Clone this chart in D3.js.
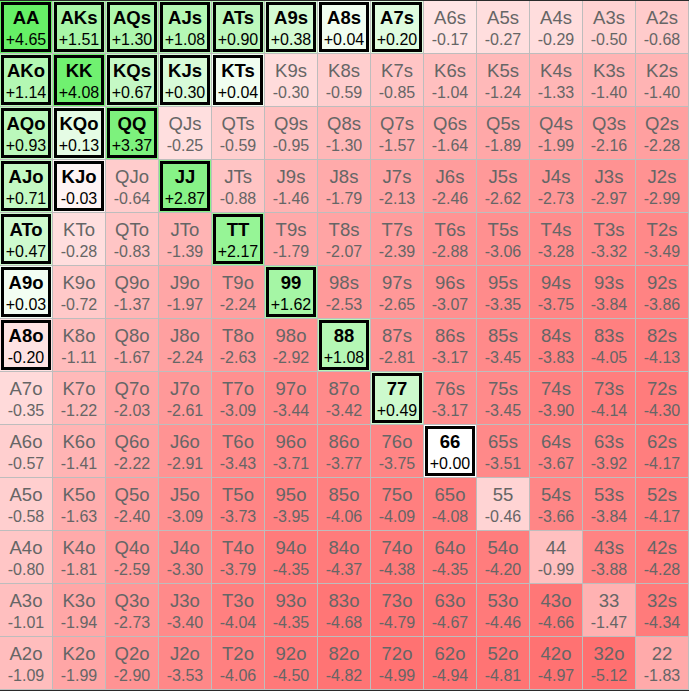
<!DOCTYPE html>
<html>
<head>
<meta charset="utf-8">
<script src="https://cdn.jsdelivr.net/npm/d3@7"></script>
<style>
  html, body { margin: 0; padding: 0; background: #2a2a2a; }
  svg { display: block; }
</style>
</head>
<body>
<script>
const ranks = ["A","K","Q","J","T","9","8","7","6","5","4","3","2"];

// EV per cell, row = first rank index, col = second rank index
const rowA = [4.65, 1.51, 1.30, 1.08, 0.90, 0.38, 0.04, 0.20, -0.17, -0.27, -0.29, -0.50, -0.68];
const rowK = [1.14, 4.08, 0.67, 0.30, 0.04, -0.30, -0.59, -0.85, -1.04, -1.24, -1.33, -1.40, -1.40];
const rowQ = [0.93, 0.13, 3.37, -0.25, -0.59, -0.95, -1.30, -1.57, -1.64, -1.89, -1.99, -2.16, -2.28];
const rowJ = [0.71, -0.03, -0.64, 2.87, -0.88, -1.46, -1.79, -2.13, -2.46, -2.62, -2.73, -2.97, -2.99];
const rowT = [0.47, -0.28, -0.83, -1.39, 2.17, -1.79, -2.07, -2.39, -2.88, -3.06, -3.28, -3.32, -3.49];
const row9 = [0.03, -0.72, -1.37, -1.97, -2.24, 1.62, -2.53, -2.65, -3.07, -3.35, -3.75, -3.84, -3.86];
const row8 = [-0.20, -1.11, -1.67, -2.24, -2.63, -2.92, 1.08, -2.81, -3.17, -3.45, -3.83, -4.05, -4.13];
const row7 = [-0.35, -1.22, -2.03, -2.61, -3.09, -3.44, -3.42, 0.49, -3.17, -3.45, -3.90, -4.14, -4.30];
const row6 = [-0.57, -1.41, -2.22, -2.91, -3.43, -3.71, -3.77, -3.75, 0.00, -3.51, -3.67, -3.92, -4.17];
const row5 = [-0.58, -1.63, -2.40, -3.09, -3.73, -3.95, -4.06, -4.09, -4.08, -0.46, -3.66, -3.84, -4.17];
const row4 = [-0.80, -1.81, -2.59, -3.30, -3.79, -4.35, -4.37, -4.38, -4.35, -4.20, -0.99, -3.88, -4.28];
const row3 = [-1.01, -1.94, -2.73, -3.40, -4.04, -4.35, -4.68, -4.79, -4.67, -4.46, -4.66, -1.47, -4.34];
const row2 = [-1.09, -1.99, -2.90, -3.53, -4.06, -4.50, -4.82, -4.99, -4.94, -4.81, -4.97, -5.12, -1.83];
const evRows = [rowA, rowK, rowQ, rowJ, rowT, row9, row8, row7, row6, row5, row4, row3, row2];

// hands in the highlighted (bordered) range
const rangeHands = ["AA","AKs","AQs","AJs","ATs","A9s","A8s","A7s",
  "AKo","KK","KQs","KJs","KTs","AQo","KQo","QQ","AJo","KJo","JJ",
  "ATo","TT","A9o","99","A8o","88","77","66"];

function handName(i, j) {
  if (i === j) return ranks[i] + ranks[j];
  if (i < j) return ranks[i] + ranks[j] + "s";
  return ranks[j] + ranks[i] + "o";
}

const cells = [];
evRows.forEach((row, i) => row.forEach((v, j) => {
  const name = handName(i, j);
  cells.push({ i, j, v, name, inRange: rangeHands.includes(name) });
}));

const W = 689, H = 691;
const svg = d3.select("body").append("svg").attr("width", W).attr("height", H);

const x = d3.scaleBand().domain(d3.range(13)).range([0, 689]).padding(0);
const y = d3.scaleBand().domain(d3.range(13)).range([1, 690]).padding(0);

const maxPos = d3.max(cells, d => d.v);
const minNeg = d3.min(cells, d => d.v);
const posScale = d3.scalePow().exponent(0.5).domain([0, maxPos]).range([0, 1]).clamp(true);
const negScale = d3.scalePow().exponent(0.5).domain([0, -minNeg]).range([0, 1]).clamp(true);
const greenI = d3.interpolateRgb("#ffffff", "rgb(102,240,102)");
const redI = d3.interpolateRgb("#ffffff", "rgb(255,112,112)");
function fillOf(v) {
  return v >= 0 ? greenI(posScale(v)) : redI(negScale(-v));
}
function fmt(v) {
  return (v >= 0 ? "+" : "-") + Math.abs(v).toFixed(2);
}

// gridline background
svg.append("rect").attr("x", 0).attr("y", 1).attr("width", 689).attr("height", 689).attr("fill", "#bdbdbd");

const bw = x.bandwidth();
const g = svg.selectAll("g.cell").data(cells).enter().append("g").attr("class", "cell")
  .attr("transform", d => `translate(${x(d.j)},${y(d.i)})`);

g.append("rect").attr("width", bw - 1).attr("height", bw - 1).attr("fill", d => fillOf(d.v));

g.filter(d => d.inRange).append("rect")
  .attr("x", 2.5).attr("y", 2.5).attr("width", bw - 6).attr("height", bw - 6)
  .attr("fill", "none").attr("stroke", "#000").attr("stroke-width", 3);

g.append("text")
  .attr("x", (bw - 1) / 2).attr("y", 23)
  .attr("text-anchor", "middle")
  .attr("font-family", "'Liberation Sans', Arial, sans-serif")
  .attr("font-size", 18.5)
  .attr("font-weight", d => d.inRange ? "bold" : "normal")
  .attr("fill", d => d.inRange ? "#000" : "#666")
  .text(d => d.name);

g.append("text")
  .attr("x", (bw - 1) / 2).attr("y", 43.5)
  .attr("text-anchor", "middle")
  .attr("font-family", "'Liberation Sans', Arial, sans-serif")
  .attr("font-size", 16)
  .attr("fill", d => d.inRange ? "#000" : "#666")
  .text(d => fmt(d.v));
</script>
</body>
</html>
